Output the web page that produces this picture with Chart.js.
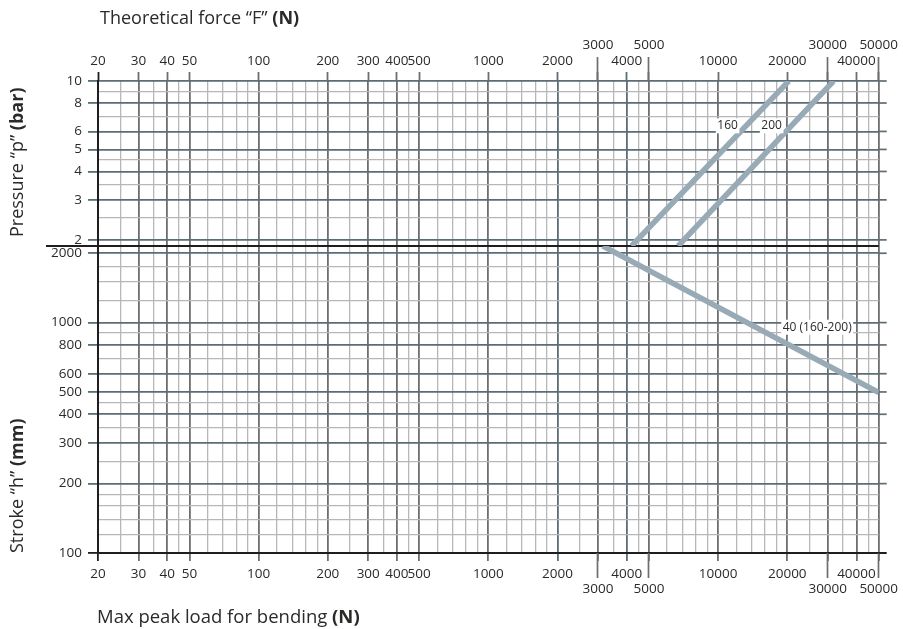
<!DOCTYPE html>
<html>
<head>
<meta charset="utf-8">
<script src="https://cdn.jsdelivr.net/npm/chart.js@4.4.1/dist/chart.umd.min.js"></script>
<style>
  html, body { margin: 0; padding: 0; background: #fff; }
  #wrap { position: relative; width: 903px; height: 629px; }
</style>
</head>
<body>
<div id="wrap"><canvas id="chart"></canvas></div>
<script>
// force / load axis (N) - shared by both panels
const forceMajor = [20, 30, 40, 50, 100, 200, 300, 400, 500, 1000, 2000, 3000, 4000, 5000, 10000, 20000, 30000, 40000, 50000];
const forceMinor = [25, 35, 45, 60, 70, 80, 90, 120, 140, 160, 180, 250, 350, 450, 600, 700, 800, 900,
  1200, 1400, 1600, 1800, 2500, 3500, 4500, 6000, 7000, 8000, 9000, 12000, 14000, 16000, 18000, 25000, 35000, 45000];
const forceStaggered = [3000, 5000, 30000, 50000];
const forceSlate = [2000, 4000];

// pressure panel (bar)
const pressureMajor = [2, 3, 4, 5, 6, 8, 10];
const pressureMinor = [2.5, 3.5, 4.5, 7, 9];
const pressureRange = [1.88, 10];

// stroke panel (mm)
const strokeMajor = [100, 200, 300, 400, 500, 600, 800, 1000, 2000];
const strokeMinor = [120, 140, 160, 180, 250, 350, 450, 700, 900, 1250, 1500, 1750];
const strokeRange = [100, 2150];

// curves
const bore160Force = [4200, 20300];
const bore160Pressure = [1.88, 10];
const bore200Force = [6700, 31800];
const bore200Pressure = [1.88, 10];
const rod40Load = [3150, 50000];
const rod40Stroke = [2150, 497];

// curve captions
const captionText = ['160', '200', '40 (160-200)'];
const captionForce = [11000, 17100, 27000];
const captionValue = [6.35, 6.35, 955];
const captionAxis = ['yP', 'yP', 'yS'];

const INK = '#2b2a29';
const SLATE = '#5d6d76';
const GRAY = '#6d6e71';
const LIGHT = '#b7b7b7';
const CURVE = '#98aab5';
const AXIS = '#1f1d1e';
const NONE = 'rgba(0,0,0,0)';
const FONT = '"Open Sans", "Noto Sans", sans-serif';

const has = (arr, v) => arr.some(a => Math.abs(a - v) <= 1e-6 * a);
const setTicks = list => scale => {
  scale.ticks = list.slice().sort((a, b) => a - b).map(v => ({ value: v }));
};

const curve = (xs, ys, yAxisID) => ({
  data: xs.map((x, i) => ({ x, y: ys[i] })),
  xAxisID: 'xB',
  yAxisID,
  borderColor: CURVE,
  borderWidth: 5.5,
  borderCapStyle: 'butt',
  pointRadius: 0,
  tension: 0,
  fill: false
});

function richText(ctx, parts, x, y, size) {
  let cx = x;
  parts.forEach(([txt, bold]) => {
    ctx.font = (bold ? 'bold ' : '') + size + 'px ' + FONT;
    ctx.fillText(txt, cx, y);
    cx += ctx.measureText(txt).width;
  });
}

const decor = {
  id: 'decor',
  beforeDatasetsDraw(chart) {
    const { ctx, chartArea: a, scales } = chart;
    ctx.save();
    // longer ticks for the staggered labels
    ctx.strokeStyle = GRAY;
    ctx.lineWidth = 1.7;
    forceStaggered.forEach(v => {
      const x = Math.round(scales.xB.getPixelForValue(v)) - 0.5;
      ctx.beginPath();
      ctx.moveTo(x, a.bottom);
      ctx.lineTo(x, a.bottom + 25);
      ctx.moveTo(x, a.top);
      ctx.lineTo(x, a.top - 24);
      ctx.stroke();
    });
    // major horizontals run a little past the last vertical
    ctx.strokeStyle = SLATE;
    [['yP', pressureMajor], ['yS', strokeMajor.filter(v => v !== 100)]].forEach(([id, vals]) => {
      vals.forEach(v => {
        const y = scales[id].getPixelForValue(v);
        ctx.beginPath();
        ctx.moveTo(a.right, y);
        ctx.lineTo(a.right + 8, y);
        ctx.stroke();
      });
    });
    ctx.strokeStyle = AXIS;
    ctx.lineWidth = 2;
    ctx.beginPath();
    ctx.moveTo(a.right, a.bottom);
    ctx.lineTo(a.right + 8, a.bottom);
    // separator between the two panels
    const ySep = scales.yP.bottom;
    ctx.moveTo(a.left - 52, ySep);
    ctx.lineTo(a.right, ySep);
    ctx.stroke();
    ctx.restore();
  },
  afterDatasetsDraw(chart) {
    const { ctx, scales } = chart;
    ctx.save();
    ctx.font = '12px ' + FONT;
    ctx.textAlign = 'center';
    ctx.textBaseline = 'middle';
    captionText.forEach((t, i) => {
      const x = scales.xB.getPixelForValue(captionForce[i]);
      const y = scales[captionAxis[i]].getPixelForValue(captionValue[i]);
      const w = ctx.measureText(t).width + 3;
      ctx.fillStyle = '#fff';
      ctx.fillRect(x - w / 2, y - 7.5, w, 15);
      ctx.fillStyle = INK;
      ctx.fillText(t, x, y);
    });
    ctx.restore();
  },
  afterDraw(chart) {
    const { ctx, chartArea: a } = chart;
    ctx.save();
    ctx.fillStyle = INK;
    ctx.textAlign = 'left';
    ctx.textBaseline = 'alphabetic';
    richText(ctx, [['Theoretical force \u201cF\u201d ', false], ['(N)', true]], a.left + 2, 24, 18);
    richText(ctx, [['Max peak load for bending ', false], ['(N)', true]], a.left - 1, 623, 18.5);
    ctx.translate(23, 237);
    ctx.rotate(-Math.PI / 2);
    richText(ctx, [['Pressure \u201cp\u201d ', false], ['(bar)', true]], 0, 0, 18);
    ctx.rotate(Math.PI / 2);
    ctx.translate(0, 553 - 237);
    ctx.rotate(-Math.PI / 2);
    richText(ctx, [['Stroke \u201ch\u201d ', false], ['(mm)', true]], 0, 0, 18);
    ctx.restore();
  }
};

const tickFont = { family: FONT, size: 13.5, lineHeight: 1.16 };

new Chart(document.getElementById('chart'), {
  type: 'line',
  data: {
    datasets: [
      curve(bore160Force, bore160Pressure, 'yP'),
      curve(bore200Force, bore200Pressure, 'yP'),
      curve(rod40Load, rod40Stroke, 'yS')
    ]
  },
  options: {
    responsive: true,
    maintainAspectRatio: false,
    animation: false,
    layout: { padding: { left: 0, right: 19, top: 0, bottom: 0 } },
    plugins: { legend: { display: false }, tooltip: { enabled: false } },
    scales: {
      xB: {
        type: 'logarithmic', position: 'bottom', min: 20, max: 50000,
        afterBuildTicks: setTicks(forceMajor.concat(forceMinor)),
        afterFit: s => { s.height = 76; },
        border: { color: AXIS, width: 2 },
        grid: {
          color: c => c.tick.value === 20 ? NONE : has(forceMajor, c.tick.value) ? (has(forceSlate, c.tick.value) ? SLATE : GRAY) : LIGHT,
          lineWidth: c => has(forceMajor, c.tick.value) ? 1.8 : 1.3,
          tickLength: 8,
          tickWidth: 1.8,
          tickColor: c => c.tick.value === 20 ? AXIS : has(forceMajor, c.tick.value) ? (has(forceSlate, c.tick.value) ? SLATE : GRAY) : NONE
        },
        ticks: {
          autoSkip: false, maxRotation: 0, minRotation: 0, padding: 5, color: INK, font: tickFont,
          callback: v => !has(forceMajor, v) ? '' : has(forceStaggered, v) ? ['', String(v)] : String(v)
        }
      },
      xT: {
        type: 'logarithmic', position: 'top', min: 20, max: 50000,
        afterBuildTicks: setTicks(forceMajor),
        afterFit: s => { s.height = 81; },
        border: { display: false },
        grid: {
          drawOnChartArea: false,
          tickLength: 9,
          tickWidth: 1.8,
          tickColor: c => c.tick.value === 20 ? AXIS : has(forceSlate, c.tick.value) ? SLATE : GRAY
        },
        ticks: {
          autoSkip: false, maxRotation: 0, minRotation: 0, padding: 3, color: INK, font: tickFont,
          callback: v => has(forceStaggered, v) ? [String(v), ''] : String(v)
        }
      },
      yS: {
        type: 'logarithmic', position: 'left', stack: 'panels', stackWeight: 307,
        min: strokeRange[0], max: strokeRange[1],
        afterBuildTicks: setTicks(strokeMajor.concat(strokeMinor)),
        afterFit: s => { s.width = 98; },
        border: { color: AXIS, width: 2 },
        grid: {
          color: c => c.tick.value === 100 ? NONE : has(strokeMajor, c.tick.value) ? SLATE : LIGHT,
          lineWidth: c => has(strokeMajor, c.tick.value) ? 1.8 : 1.3,
          tickLength: 10,
          tickWidth: 1.8,
          tickColor: c => c.tick.value === 100 ? AXIS : has(strokeMajor, c.tick.value) ? SLATE : NONE
        },
        ticks: {
          autoSkip: false, padding: 6, color: INK, font: tickFont,
          callback: v => has(strokeMajor, v) ? String(v) : ''
        }
      },
      yP: {
        type: 'logarithmic', position: 'left', stack: 'panels', stackWeight: 165,
        min: pressureRange[0], max: pressureRange[1],
        afterBuildTicks: setTicks(pressureMajor.concat(pressureMinor)),
        afterFit: s => { s.width = 98; },
        border: { color: AXIS, width: 2 },
        grid: {
          color: c => has(pressureMajor, c.tick.value) ? SLATE : LIGHT,
          lineWidth: c => has(pressureMajor, c.tick.value) ? 1.8 : 1.3,
          tickLength: 10,
          tickWidth: 1.8,
          tickColor: c => has(pressureMajor, c.tick.value) ? SLATE : NONE
        },
        ticks: {
          autoSkip: false, padding: 6, color: INK, font: tickFont,
          callback: v => has(pressureMajor, v) ? String(v) : ''
        }
      }
    }
  },
  plugins: [decor]
});
</script>
</body>
</html>
